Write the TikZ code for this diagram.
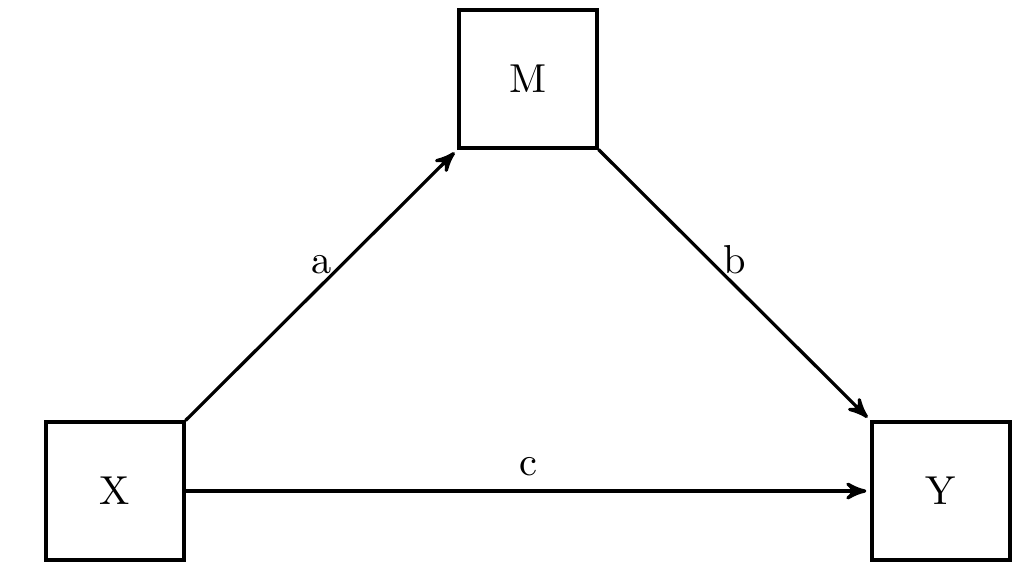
\documentclass[tikz,border=0pt]{standalone}
\usepackage{amsmath}
\usepackage{tikz}
\usetikzlibrary{arrows}

\begin{document}
\begin{tikzpicture}[x=0.008696cm, y=-0.008696cm, >=stealth',
  var/.style={draw, thick, minimum size=1.2cm, inner sep=0pt},
  path/.style={->, thick, shorten >=1pt}]
  \useasboundingbox (0,0) rectangle (1024,574);
  \node[var] (M) at (528,79) {M};
  \node[var] (X) at (115,491) {X};
  \node[var] (Y) at (941,491) {Y};
  \draw[path] (X.north east) -- node[above, yshift=-1pt] {a} (M.south west);
  \draw[path] (M.south east) -- node[above, yshift=-1pt] {b} (Y.north west);
  \draw[path] (X.east) -- node[above] {c} (Y.west);
\end{tikzpicture}
\end{document}
